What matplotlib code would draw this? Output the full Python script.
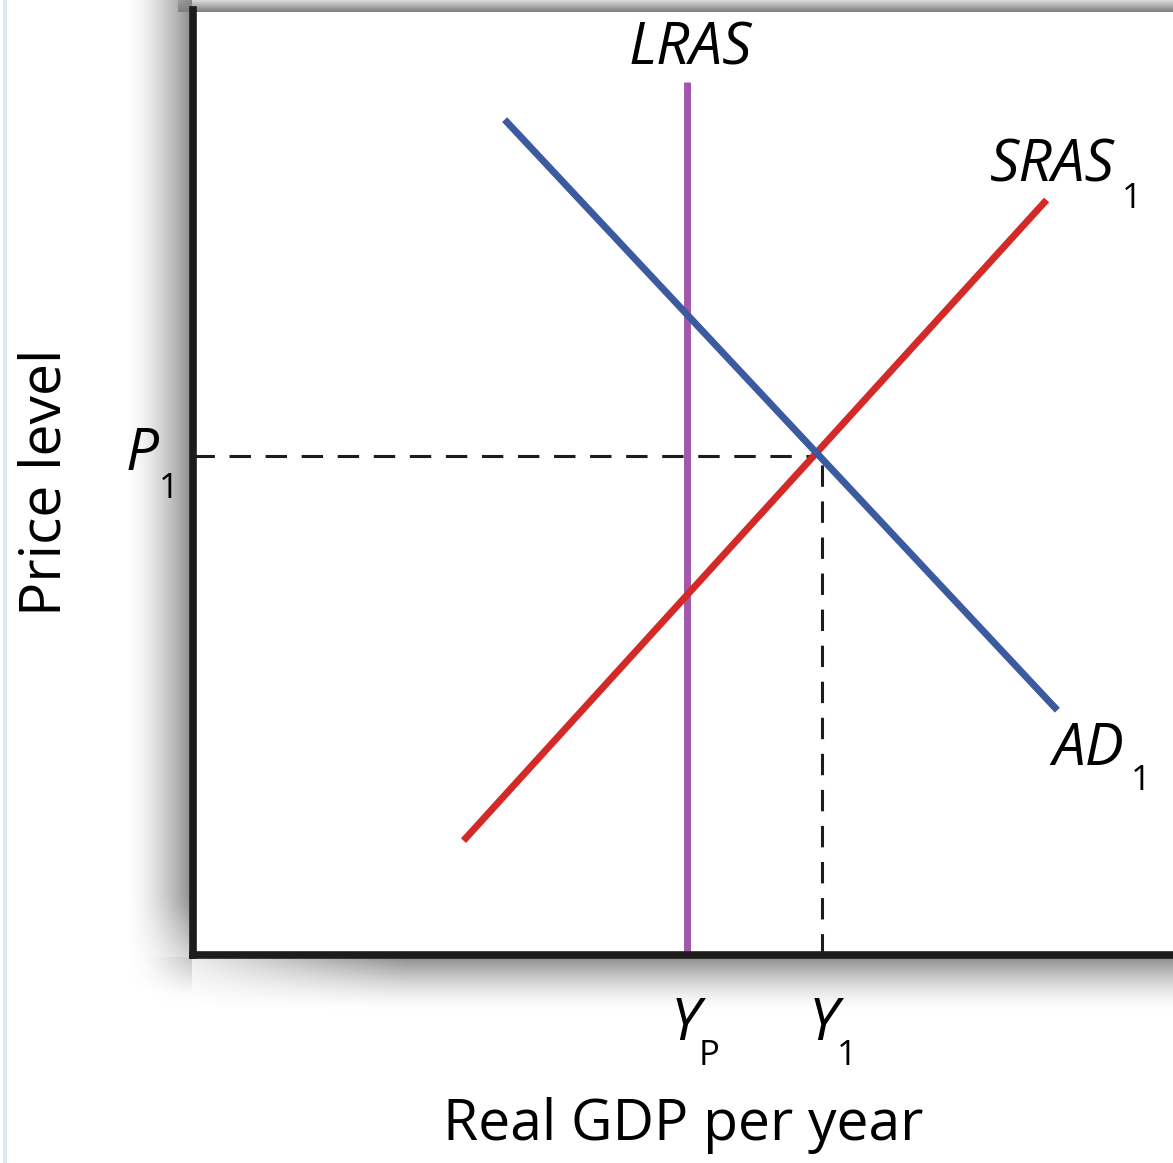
import numpy as np
import matplotlib.pyplot as plt

# curve end points (x = real GDP, y = price level), axis range 0..100
lras_x = [50.4, 50.4]
lras_y = [0.0, 92.4]
ad_x = [31.8, 88.2]
ad_y = [88.4, 25.9]
sras_x = [27.6, 87.1]
sras_y = [12.1, 79.9]
eq_x = 64.2   # Y1
eq_y = 52.8   # P1

W, H = 1173, 1163
plt.rcParams['font.family'] = ['Open Sans', 'DejaVu Sans']

fig = plt.figure(figsize=(W / 100, H / 100), dpi=100)

# background layer in pixel units for the frame shadows
bg = fig.add_axes([0, 0, 1, 1], zorder=0)


def shade(extent, hgrad, vgrad, dark=0.55):
    alpha = np.outer(vgrad, hgrad)
    rgba = np.zeros(alpha.shape + (4,))
    rgba[..., :3] = dark
    rgba[..., 3] = alpha
    bg.imshow(rgba, extent=extent, aspect='auto', interpolation='bilinear')


ramp = np.linspace(0, 1, 64) ** 1.6
flat = np.ones(64)
fade = np.clip(np.linspace(0, 4, 64), 0, 1)
# left of y-axis, fading out below the x-axis
shade((125, 192, 1000, 0), ramp, np.r_[flat, 1 - np.clip(np.linspace(-1, 1, 16), 0, 1)])
# below x-axis, fading in from the left
shade((140, W, 1012, 957), fade, ramp[::-1])
# top band
shade((178, W, 12, 0), flat, np.linspace(0.3, 1, 16), dark=0.5)
bg.axvline(5, color='#dce8f2', lw=3)
bg.set_xlim(0, W)
bg.set_ylim(H, 0)
bg.axis('off')

ax = fig.add_axes([193 / W, 1 - 955 / H, (W - 193) / W, (955 - 10) / H], zorder=1)
ax.set_xlim(0, 100)
ax.set_ylim(0, 100)
ax.patch.set_alpha(0)
for s in ['top', 'right']:
    ax.spines[s].set_visible(False)
for s in ['left', 'bottom']:
    ax.spines[s].set_color('#1c1c1c')
    ax.spines[s].set_linewidth(5.5)
ax.set_xticks([])
ax.set_yticks([])

dash = (7.0, 4.8)
ax.plot([0, eq_x], [eq_y, eq_y], color='#1c1c1c', lw=2.2, dashes=dash, zorder=1)
ax.plot([eq_x, eq_x], [0, eq_y], color='#1c1c1c', lw=2.2, dashes=dash, zorder=1)

ax.plot(lras_x, lras_y, color='#a457aa', lw=5, solid_capstyle='butt', zorder=2)
ax.plot(sras_x, sras_y, color='#d42a27', lw=5, solid_capstyle='butt', zorder=3)
ax.plot(ad_x, ad_y, color='#3c5aa0', lw=5, solid_capstyle='butt', zorder=4)

fs = 42
sub_fs = 25
fig.canvas.draw()


def sublabel(x, y, main, sub, dx, drop=18):
    t = ax.text(x, y, main, fontsize=fs, style='italic', ha='left',
                va='baseline', clip_on=False)
    ax.annotate(sub, xy=(1, y), xycoords=(t, 'data'), xytext=(dx, -drop),
                textcoords='offset points', fontsize=sub_fs, ha='left',
                va='baseline', annotation_clip=False)


ax.text(lras_x[0] + 0.3, 94.2, 'LRAS', fontsize=fs, style='italic',
        ha='center', va='baseline')
sublabel(81.3, 81.8, 'SRAS', '1', dx=5, drop=19)
sublabel(87.7, 20.1, 'AD', '1', dx=5)
sublabel(-6.9, 51.3, 'P', '1', dx=0, drop=20)
sublabel(48.7, -9.0, 'Y', 'P', dx=-0.5, drop=18)
sublabel(62.8, -9.0, 'Y', '1', dx=-1, drop=18)

ax.set_xlabel('Real GDP per year', fontsize=41, labelpad=102)
ax.set_ylabel('Price level', fontsize=41, labelpad=85)

fig.savefig('out.png', dpi=100, facecolor='white')
